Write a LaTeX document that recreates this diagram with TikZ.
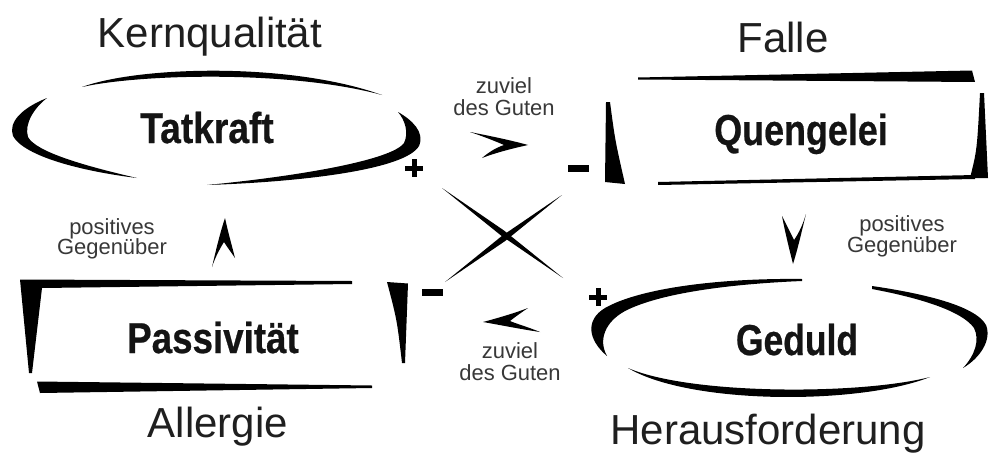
\documentclass[tikz,border=0pt]{standalone}
\usepackage{fontspec}
\usepackage{graphicx}
\setmainfont{Liberation Sans}
\newfontfamily\heavyfont[FakeBold=0.6]{Liberation Sans Bold}
\begin{document}
\begin{tikzpicture}[x=0.02cm,y=-0.02cm]
\tikzset{
  ink/.style={fill=black,draw=none},
  ttl/.style={font=\fontsize{23.9}{28}\selectfont, text=black!88, inner sep=0, anchor=base},
  lbl/.style={font=\fontsize{24.6}{28}\heavyfont, text=black!92, inner sep=0, anchor=base},
  small/.style={font=\fontsize{12.5}{14}\selectfont, text=black!78, inner sep=0, anchor=base}
}
\useasboundingbox (0,0) rectangle (989,456);
\fill[white] (0,0) rectangle (989,456);

% ---------- titles ----------
\node[ttl] (kern) at (210,48) {Kernqualität};
\node[ttl] (falle) at (783,52) {Falle};
\node[ttl] (allerg) at (218,437) {Allergie};
\node[ttl] (heraus) at (768,444) {Herausforderung};

% ---------- main labels ----------
\node[lbl] (tat) at (207,143) {\scalebox{0.86}[1]{Tatkraft}};
\node[lbl] (que) at (801,145) {\scalebox{0.83}[1]{Quengelei}};
\node[lbl] (pas) at (213,353) {\scalebox{0.85}[1]{Passivität}};
\node[lbl] (ged) at (797,355) {\scalebox{0.82}[1]{Geduld}};

% ---------- small texts ----------
\node[small] (z1a) at (504,93) {zuviel};
\node[small] (z1b) at (504,115) {des Guten};
\node[small] (z2a) at (510,358) {zuviel};
\node[small] (z2b) at (510,380) {des Guten};
\node[small] (p1a) at (112,234) {positives};
\node[small] (p1b) at (112,254) {Gegenüber};
\node[small] (p2a) at (902,231) {positives};
\node[small] (p2b) at (902,252) {Gegenüber};

% ---------- Tatkraft ellipse ----------
\fill[ink] (82,87) .. controls (140,66) and (290,62) .. (382,95)
           .. controls (290,70) and (140,74) .. (82,87) -- cycle;
\fill[ink] (47,98) .. controls (22,108) and (8,122) .. (13,136)
           .. controls (24,156) and (80,171) .. (137,178)
           .. controls (85,166) and (36,152) .. (28,137)
           .. controls (24,124) and (34,108) .. (47,98) -- cycle;
\fill[ink] (398,112) .. controls (412,120) and (425,132) .. (419,146)
           .. controls (405,170) and (300,182) .. (207,185)
           .. controls (300,176) and (392,160) .. (404,143)
           .. controls (409,133) and (405,120) .. (398,112) -- cycle;
% plus
\fill[ink] (405,165.5) rectangle (423,170.5);
\fill[ink] (411.5,159) rectangle (416.5,177);

% ---------- Quengelei box ----------
\fill[ink] (638,77.5) -- (972,70.5) -- (975,82) -- (638,79.5) -- cycle;
\fill[ink] (980,93) -- (984,93) -- (988,178) -- (970,178)
           .. controls (977,150) .. (980,93) -- cycle;
\fill[ink] (658,182) -- (975,175) -- (975,179) -- (658,185) -- cycle;
\fill[ink] (606,102) -- (610,102) .. controls (615,140) .. (625,184) -- (605,182) -- cycle;
% minus
\fill[ink] (568,164.5) rectangle (589,171.5);

% ---------- Passivitaet box ----------
\fill[ink] (20,279.5) -- (352,281) -- (352,284) -- (42,288)
           -- (32,373) -- (29,373) -- cycle;
\fill[ink] (37,381.5) -- (372,385.5) -- (372,388) -- (40,393) -- cycle;
\fill[ink] (387,282) -- (408,283.5) -- (405,363) -- (402,363)
           .. controls (397,320) .. (387,282) -- cycle;
% minus
\fill[ink] (422,289) rectangle (443,296);

% ---------- Geduld ellipse ----------
\fill[ink] (802,279) .. controls (720,278) and (640,288) .. (605,308)
           .. controls (585,320) and (588,340) .. (607,356)
           .. controls (598,340) and (605,322) .. (625,311)
           .. controls (660,293) and (730,284) .. (802,281) -- cycle;
\fill[ink] (872,286) .. controls (920,293) and (975,305) .. (986,325)
           .. controls (992,340) and (980,358) .. (963,368)
           .. controls (975,355) and (980,340) .. (974,328)
           .. controls (962,311) and (920,298) .. (872,289) -- cycle;
\fill[ink] (628,368) .. controls (690,405) and (860,405) .. (930,377)
           .. controls (860,395) and (690,395) .. (628,368) -- cycle;
% plus
\fill[ink] (589,294.5) rectangle (607,299.5);
\fill[ink] (595.5,288) rectangle (600.5,306);

% ---------- chevrons ----------
% right-pointing (top)
\fill[ink] (470,132) .. controls (490,136) and (510,140) .. (528,145)
           .. controls (510,149) and (495,153) .. (482,158)
           .. controls (490,151) and (498,147) .. (504,145)
           .. controls (495,141) and (482,136) .. (470,132) -- cycle;
% left-pointing (bottom)
\fill[ink] (528,308) .. controls (515,313) and (498,318) .. (483,322)
           .. controls (500,325) and (520,329) .. (540,332)
           .. controls (528,327) and (517,324) .. (510,321)
           .. controls (515,317) and (522,312) .. (528,308) -- cycle;
% up (left)
\fill[ink] (212,267) .. controls (216,250) and (220,233) .. (225,218)
           .. controls (228,232) and (232,246) .. (235,258)
           .. controls (231,252) and (227,247) .. (224,242)
           .. controls (219,250) and (215,258) .. (212,267) -- cycle;
% down (right)
\fill[ink] (782,216) .. controls (785,232) and (789,248) .. (793,264)
           .. controls (798,248) and (802,230) .. (806,214)
           .. controls (803,224) and (799,233) .. (794,240)
           .. controls (790,232) and (786,224) .. (782,216) -- cycle;

% ---------- cross ----------
\fill[ink] (442,188) -- (500.9,235.4) -- (563,278) -- (504.1,230.6) -- cycle;
\fill[ink] (562,195) -- (501.7,236.1) -- (445,282) -- (505.3,240.9) -- cycle;
\end{tikzpicture}
\end{document}
